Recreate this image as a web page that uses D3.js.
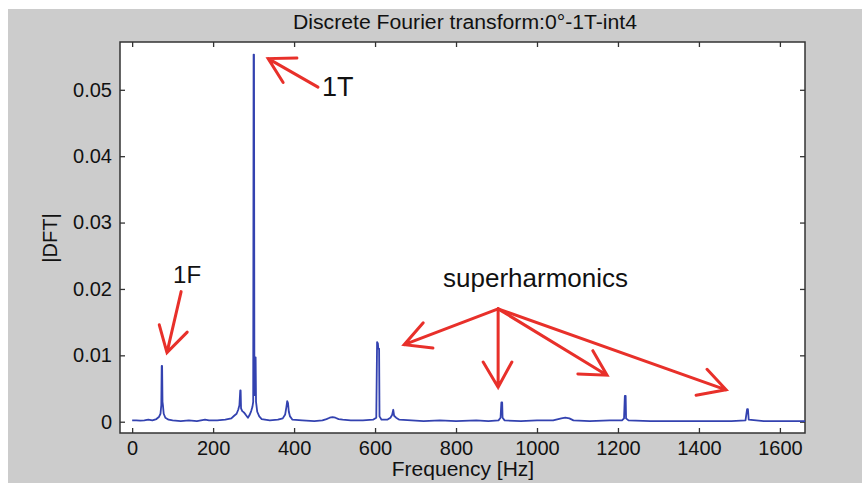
<!DOCTYPE html>
<html>
<head>
<meta charset="utf-8">
<script src="https://cdn.jsdelivr.net/npm/d3@7"></script>
<style>
  body { margin: 0; background: #fff; }
  text { font-family: "Liberation Sans", Arial, sans-serif; fill: #111; }
</style>
</head>
<body>
<svg id="chart" width="862" height="483"></svg>
<script>
// spectrum samples
let freq = [0,10,20,30,40,50,60,66,70,72,73,74,75,76,78,82,90,100,120,140,160,180,190,210,230,245,252,258,262,265,267,268,269,272,276,280,286,290,294,297,299,300,301,302,304,305,306,309,314,320,340,360,372,378,381,383,385,387,390,396,420,450,470,480,488,495,502,510,520,540,570,595,603,605,607,608,610,611,616,630,638,642,645,647,652,660,690,720,760,800,850,880,905,910,912,914,915,920,960,1000,1040,1060,1070,1080,1090,1130,1180,1210,1215,1217,1219,1220,1226,1280,1350,1420,1480,1515,1519,1521,1523,1560,1620,1662];
let dft = [0.0002,0.0002,0.00015,0.0002,0.0003,0.0002,0.0004,0.0007,0.0012,0.0025,0.0084,0.0084,0.0030,0.0025,0.0012,0.0006,0.0003,0.0002,0.0001,0.0002,0.0001,0.0003,0.0002,0.0002,0.0003,0.0005,0.0009,0.0012,0.0018,0.0025,0.0047,0.0047,0.0020,0.0016,0.0014,0.0011,0.0006,0.0010,0.0016,0.0022,0.0030,0.0553,0.0553,0.0040,0.0097,0.0097,0.0030,0.0015,0.0008,0.0004,0.0002,0.0003,0.0005,0.0011,0.0022,0.0031,0.0028,0.0015,0.0008,0.0003,0.0002,0.0001,0.0002,0.0004,0.0006,0.0007,0.0006,0.0004,0.0003,0.0002,0.0002,0.0003,0.0006,0.0120,0.0118,0.0110,0.0110,0.0008,0.0003,0.0003,0.0006,0.0010,0.0018,0.0009,0.0006,0.0003,0.0002,0.0001,0.0002,0.0001,0.0002,0.0001,0.0002,0.0006,0.0029,0.0029,0.0006,0.0002,0.0001,0.0002,0.0002,0.0005,0.0006,0.0005,0.0002,0.0001,0.0002,0.0002,0.0005,0.0039,0.0039,0.0005,0.0002,0.0001,0.0001,0.0001,0.0001,0.0002,0.0019,0.0019,0.0003,0.0001,0.0001,0.0001];

let xTicks = [0,200,400,600,800,1000,1200,1400,1600];
let yTicks = [0,0.01,0.02,0.03,0.04,0.05];

// annotation labels and arrows, in data units
let labels = [
  {text: '1T', f: 469, v: 0.0491, size: 27},
  {text: '1F', f: 101, v: 0.0209, size: 24},
  {text: 'superharmonics', f: 768, v: 0.0203, size: 26}
];
let arrows = [
  {from: [459, 0.0504], tip: [336, 0.0547], h1: [407, 0.0548], h2: [373, 0.0511]},
  {from: [121, 0.0196], tip: [86, 0.0104], h1: [67, 0.0146], h2: [136, 0.0135]},
  {from: [904, 0.0170], tip: [672, 0.0116], h1: [719, 0.0149], h2: [743, 0.0111]},
  {from: [904, 0.0170], tip: [904, 0.0052], h1: [867, 0.0090], h2: [938, 0.0090]},
  {from: [904, 0.0170], tip: [1173, 0.0070], h1: [1138, 0.0107], h2: [1101, 0.0072]},
  {from: [904, 0.0170], tip: [1467, 0.0048], h1: [1420, 0.0079], h2: [1393, 0.0040]}
];

let svg = d3.select('#chart');
let pLeft = 120, pRight = 805, pTop = 42, pBottom = 433;

svg.append('rect').attr('x', 8).attr('y', 9).attr('width', 854).attr('height', 474).attr('fill', '#cccccc');
svg.append('rect').attr('x', pLeft).attr('y', pTop).attr('width', pRight - pLeft).attr('height', pBottom - pTop).attr('fill', '#fff');

let xScale = d3.scaleLinear().domain([-30, 1662]).range([pLeft, pRight]);
let yScale = d3.scaleLinear().domain([-0.0017, 0.0572]).range([pBottom, pTop]);

// axes, MATLAB style ticks pointing inward on all sides
let tk = 5;
svg.append('g').attr('transform', `translate(0,${pBottom})`)
    .call(d3.axisBottom(xScale).tickValues(xTicks).tickFormat(d3.format('d'))
        .tickSizeInner(-tk).tickSizeOuter(0).tickPadding(8))
    .call(g => g.selectAll('text').attr('font-size', 20));
svg.append('g').attr('transform', `translate(0,${pTop})`)
    .call(d3.axisTop(xScale).tickValues(xTicks).tickSizeInner(-tk).tickSizeOuter(0).tickFormat(''));
svg.append('g').attr('transform', `translate(${pLeft},0)`)
    .call(d3.axisLeft(yScale).tickValues(yTicks).tickFormat(d => d === 0 ? '0' : d3.format('.2f')(d))
        .tickSizeInner(-tk).tickSizeOuter(0).tickPadding(8))
    .call(g => g.selectAll('text').attr('font-size', 20));
svg.append('g').attr('transform', `translate(${pRight},0)`)
    .call(d3.axisRight(yScale).tickValues(yTicks).tickSizeInner(-tk).tickSizeOuter(0).tickFormat(''));
svg.selectAll('.domain').remove();
svg.selectAll('.tick line').attr('stroke', '#333').attr('stroke-width', 1.3);
svg.selectAll('.tick text').attr('fill', '#111');

// box around plot
svg.append('rect').attr('x', pLeft).attr('y', pTop).attr('width', pRight - pLeft).attr('height', pBottom - pTop)
    .attr('fill', 'none').attr('stroke', '#333').attr('stroke-width', 1.5);

// spectrum line
let pts = freq.map((f, i) => ({f: f, v: dft[i]}));
let lineGenerator = d3.line().x(d => xScale(d.f)).y(d => yScale(d.v));
svg.append('path').datum(pts).attr('d', lineGenerator)
    .attr('fill', 'none').attr('stroke', '#3342b0').attr('stroke-width', 1.8).attr('stroke-linejoin', 'round');

// red arrows
let ag = svg.append('g').attr('stroke', '#e8302a').attr('stroke-width', 3).attr('stroke-linecap', 'round').attr('fill', 'none');
arrows.forEach(a => {
    let p = d3.path();
    p.moveTo(xScale(a.from[0]), yScale(a.from[1]));
    p.lineTo(xScale(a.tip[0]), yScale(a.tip[1]));
    p.moveTo(xScale(a.h1[0]), yScale(a.h1[1]));
    p.lineTo(xScale(a.tip[0]), yScale(a.tip[1]));
    p.lineTo(xScale(a.h2[0]), yScale(a.h2[1]));
    ag.append('path').attr('d', p.toString());
});

svg.selectAll('.annot').data(labels).join('text').attr('class', 'annot')
    .attr('x', d => xScale(d.f)).attr('y', d => yScale(d.v))
    .attr('font-size', d => d.size).text(d => d.text);

// title and axis labels
svg.append('text').attr('x', 465).attr('y', 29).attr('text-anchor', 'middle').attr('font-size', 20)
    .attr('textLength', 344).attr('lengthAdjust', 'spacingAndGlyphs')
    .text('Discrete Fourier transform:0°-1T-int4');
svg.append('text').attr('x', 463).attr('y', 476).attr('text-anchor', 'middle').attr('font-size', 21)
    .text('Frequency [Hz]');
svg.append('text').attr('transform', 'translate(57,238) rotate(-90)').attr('text-anchor', 'middle').attr('font-size', 20)
    .text('|DFT|');
</script>
</body>
</html>
